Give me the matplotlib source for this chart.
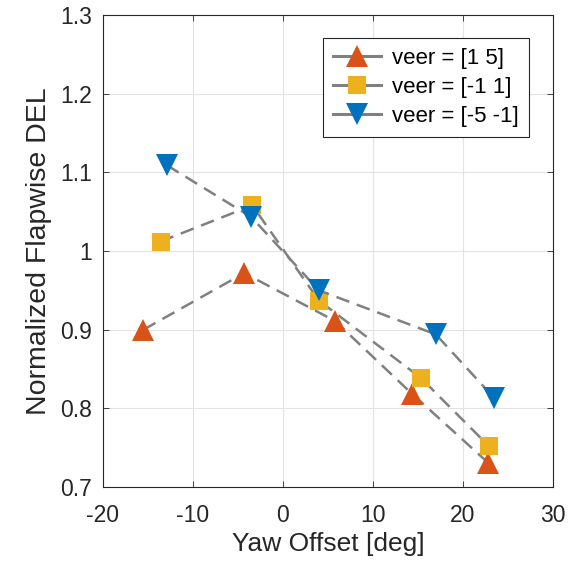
import matplotlib
matplotlib.use("Agg")
import matplotlib.pyplot as plt

# datos
yaw_red = [-15.5, -4.3, 5.8, 14.4, 22.8]
del_red = [0.900, 0.972, 0.911, 0.818, 0.731]
yaw_yellow = [-13.6, -3.4, 4.0, 15.3, 22.9]
del_yellow = [1.012, 1.058, 0.937, 0.839, 0.752]
yaw_blue = [-12.9, -3.5, 4.0, 17.0, 23.5]
del_blue = [1.109, 1.043, 0.950, 0.894, 0.813]

labels = ["veer = [1 5]", "veer = [-1 1]", "veer = [-5 -1]"]
xticks = [-20, -10, 0, 10, 20, 30]
yticks = [0.7, 0.8, 0.9, 1.0, 1.1, 1.2, 1.3]
ytick_labels = ["0.7", "0.8", "0.9", "1", "1.1", "1.2", "1.3"]

plt.rcParams['font.family'] = ['Liberation Sans', 'DejaVu Sans']
plt.rcParams['axes.unicode_minus'] = False

fig = plt.figure(figsize=(5.77, 5.65), dpi=100)
ax = fig.add_axes([0.1785, 0.138, 0.7795, 0.8355])

gris = '#808080'
estilo = dict(color=gris, linestyle=(0, (5.5, 3.2)), linewidth=1.8, markeredgewidth=0)
ax.plot(yaw_red, del_red, marker='^', markersize=16.5, markerfacecolor='#D95319', label=labels[0], **estilo)
ax.plot(yaw_yellow, del_yellow, marker='s', markersize=13, markerfacecolor='#EDB120', label=labels[1], **estilo)
ax.plot(yaw_blue, del_blue, marker='v', markersize=16.5, markerfacecolor='#0072BD', label=labels[2], **estilo)

ax.set_xlim(-20, 30)
ax.set_ylim(0.7, 1.3)
ax.set_xticks(xticks)
ax.set_yticks(yticks)
ax.set_yticklabels(ytick_labels)
ax.grid(True, color='#e3e3e3', linewidth=0.8)
ax.set_axisbelow(True)
ax.tick_params(direction='in', length=4, top=True, right=True, labelsize=16.5,
               colors='#262626', width=0.6)
ax.tick_params(axis='x', pad=12)
ax.tick_params(axis='y', pad=8)
for s in ax.spines.values():
    s.set_color('#262626')
    s.set_linewidth(0.8)

ax.set_xlabel('Yaw Offset [deg]', fontsize=19, color='#262626', labelpad=4)
ax.set_ylabel('Normalized Flapwise DEL', fontsize=20.5, color='#262626', labelpad=6)

leg = ax.legend(loc='upper right', bbox_to_anchor=(0.947, 0.951), fontsize=16,
                handlelength=2.15, fancybox=False, framealpha=1, edgecolor='#262626',
                borderpad=0.45, labelspacing=0.35, handletextpad=0.5, borderaxespad=0)
leg.get_frame().set_linewidth(0.8)
# en la leyenda la linea se ve continua
for h in leg.legend_handles:
    h.set_linestyle('-')
    h.set_linewidth(2.2)

fig.savefig('out.png', dpi=100)
